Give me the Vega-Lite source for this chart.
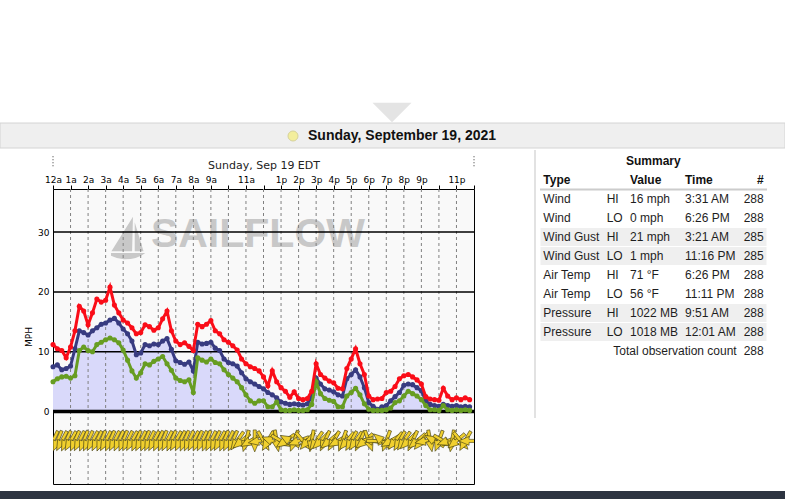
{
"$schema":"https://vega.github.io/schema/vega-lite/v6.json",
"width":421,"height":295,
"autosize":{"type":"none"},
"padding":{"left":53,"top":189,"right":311,"bottom":15},
"background":"#ffffff",
"config":{"view":{"fill":"#f9f9f9","stroke":"#000000","strokeWidth":1},"font":"DejaVu Sans"},
"datasets":{
"wind":[
{"t":"2021-09-19T00:00","g":11.2,"a":7.5,"l":5.0,"d":206},
{"t":"2021-09-19T00:15","g":10.5,"a":7.8,"l":5.5,"d":203},
{"t":"2021-09-19T00:30","g":10.2,"a":7.0,"l":5.8,"d":208},
{"t":"2021-09-19T00:45","g":9.0,"a":7.2,"l":5.9,"d":205},
{"t":"2021-09-19T01:00","g":10.8,"a":7.6,"l":5.6,"d":210},
{"t":"2021-09-19T01:15","g":13.5,"a":10.5,"l":6.0,"d":204},
{"t":"2021-09-19T01:30","g":17.6,"a":13.5,"l":10.2,"d":207},
{"t":"2021-09-19T01:45","g":16.8,"a":13.2,"l":10.8,"d":202},
{"t":"2021-09-19T02:00","g":14.5,"a":12.8,"l":10.2,"d":205},
{"t":"2021-09-19T02:15","g":16.5,"a":13.5,"l":10.0,"d":209},
{"t":"2021-09-19T02:30","g":18.8,"a":14.0,"l":11.2,"d":206},
{"t":"2021-09-19T02:45","g":18.3,"a":14.6,"l":11.6,"d":203},
{"t":"2021-09-19T03:00","g":18.6,"a":14.8,"l":12.0,"d":208},
{"t":"2021-09-19T03:15","g":20.8,"a":15.3,"l":12.3,"d":204},
{"t":"2021-09-19T03:30","g":17.8,"a":15.6,"l":12.0,"d":207},
{"t":"2021-09-19T03:45","g":16.5,"a":14.8,"l":11.5,"d":205},
{"t":"2021-09-19T04:00","g":15.3,"a":13.8,"l":10.3,"d":202},
{"t":"2021-09-19T04:15","g":14.8,"a":13.0,"l":8.6,"d":206},
{"t":"2021-09-19T04:30","g":14.0,"a":11.8,"l":6.8,"d":209},
{"t":"2021-09-19T04:45","g":13.0,"a":9.5,"l":5.6,"d":204},
{"t":"2021-09-19T05:00","g":13.2,"a":9.8,"l":6.5,"d":207},
{"t":"2021-09-19T05:15","g":14.5,"a":11.2,"l":8.0,"d":203},
{"t":"2021-09-19T05:30","g":14.2,"a":11.0,"l":7.8,"d":206},
{"t":"2021-09-19T05:45","g":13.6,"a":11.3,"l":8.4,"d":208},
{"t":"2021-09-19T06:00","g":14.0,"a":11.2,"l":8.8,"d":205},
{"t":"2021-09-19T06:15","g":15.5,"a":11.8,"l":9.2,"d":202},
{"t":"2021-09-19T06:30","g":16.8,"a":12.2,"l":8.0,"d":207},
{"t":"2021-09-19T06:45","g":13.5,"a":10.4,"l":6.9,"d":204},
{"t":"2021-09-19T07:00","g":11.8,"a":8.5,"l":5.6,"d":209},
{"t":"2021-09-19T07:15","g":11.2,"a":8.2,"l":5.2,"d":206},
{"t":"2021-09-19T07:30","g":11.5,"a":7.9,"l":5.0,"d":203},
{"t":"2021-09-19T07:45","g":10.9,"a":8.3,"l":5.3,"d":205},
{"t":"2021-09-19T08:00","g":10.2,"a":6.8,"l":3.2,"d":208},
{"t":"2021-09-19T08:15","g":14.6,"a":11.6,"l":9.0,"d":204},
{"t":"2021-09-19T08:30","g":14.2,"a":11.3,"l":8.6,"d":206},
{"t":"2021-09-19T08:45","g":14.6,"a":11.4,"l":8.3,"d":202},
{"t":"2021-09-19T09:00","g":15.2,"a":11.6,"l":8.8,"d":207},
{"t":"2021-09-19T09:15","g":13.5,"a":10.6,"l":8.2,"d":205},
{"t":"2021-09-19T09:30","g":13.0,"a":10.2,"l":8.0,"d":209},
{"t":"2021-09-19T09:45","g":12.0,"a":8.8,"l":7.0,"d":203},
{"t":"2021-09-19T10:00","g":11.6,"a":8.2,"l":6.2,"d":206},
{"t":"2021-09-19T10:15","g":11.0,"a":8.0,"l":5.6,"d":204},
{"t":"2021-09-19T10:30","g":10.3,"a":7.6,"l":5.0,"d":215},
{"t":"2021-09-19T10:45","g":8.8,"a":6.5,"l":4.0,"d":230},
{"t":"2021-09-19T11:00","g":8.0,"a":5.5,"l":2.8,"d":195},
{"t":"2021-09-19T11:15","g":7.5,"a":5.0,"l":1.8,"d":240},
{"t":"2021-09-19T11:30","g":7.2,"a":4.6,"l":1.4,"d":180},
{"t":"2021-09-19T11:45","g":6.8,"a":4.2,"l":1.8,"d":260},
{"t":"2021-09-19T12:00","g":5.8,"a":3.8,"l":1.8,"d":150},
{"t":"2021-09-19T12:15","g":4.3,"a":3.2,"l":0.8,"d":210},
{"t":"2021-09-19T12:30","g":6.8,"a":2.8,"l":0.8,"d":290},
{"t":"2021-09-19T12:45","g":5.0,"a":2.3,"l":1.6,"d":170},
{"t":"2021-09-19T13:00","g":4.0,"a":1.6,"l":0.3,"d":120},
{"t":"2021-09-19T13:15","g":3.4,"a":1.4,"l":0.2,"d":235},
{"t":"2021-09-19T13:30","g":2.4,"a":1.2,"l":0.2,"d":300},
{"t":"2021-09-19T13:45","g":3.3,"a":1.3,"l":0.3,"d":200},
{"t":"2021-09-19T14:00","g":2.2,"a":1.2,"l":0.2,"d":250},
{"t":"2021-09-19T14:15","g":2.0,"a":1.1,"l":0.2,"d":140},
{"t":"2021-09-19T14:30","g":2.2,"a":1.3,"l":0.3,"d":220},
{"t":"2021-09-19T14:45","g":3.4,"a":2.4,"l":1.2,"d":190},
{"t":"2021-09-19T15:00","g":8.0,"a":5.6,"l":5.0,"d":215},
{"t":"2021-09-19T15:15","g":6.2,"a":4.6,"l":3.0,"d":225},
{"t":"2021-09-19T15:30","g":5.6,"a":3.8,"l":2.2,"d":205},
{"t":"2021-09-19T15:45","g":5.1,"a":3.6,"l":1.9,"d":230},
{"t":"2021-09-19T16:00","g":4.8,"a":3.3,"l":1.7,"d":210},
{"t":"2021-09-19T16:15","g":3.9,"a":2.8,"l":0.8,"d":240},
{"t":"2021-09-19T16:30","g":3.8,"a":2.6,"l":0.8,"d":200},
{"t":"2021-09-19T16:45","g":7.2,"a":5.5,"l":2.6,"d":220},
{"t":"2021-09-19T17:00","g":8.8,"a":6.2,"l":3.2,"d":210},
{"t":"2021-09-19T17:15","g":10.5,"a":7.0,"l":3.9,"d":215},
{"t":"2021-09-19T17:30","g":8.0,"a":5.8,"l":2.8,"d":205},
{"t":"2021-09-19T17:45","g":6.2,"a":4.0,"l":1.3,"d":230},
{"t":"2021-09-19T18:00","g":2.6,"a":1.5,"l":0.4,"d":160},
{"t":"2021-09-19T18:15","g":2.0,"a":0.9,"l":0.2,"d":280},
{"t":"2021-09-19T18:30","g":2.1,"a":0.4,"l":0.2,"d":90},
{"t":"2021-09-19T18:45","g":2.2,"a":0.8,"l":0.2,"d":310},
{"t":"2021-09-19T19:00","g":3.2,"a":1.0,"l":0.3,"d":200},
{"t":"2021-09-19T19:15","g":3.4,"a":1.8,"l":0.6,"d":240},
{"t":"2021-09-19T19:30","g":4.2,"a":2.5,"l":1.5,"d":220},
{"t":"2021-09-19T19:45","g":5.5,"a":3.2,"l":1.8,"d":210},
{"t":"2021-09-19T20:00","g":6.0,"a":4.4,"l":2.6,"d":215},
{"t":"2021-09-19T20:15","g":6.2,"a":4.6,"l":3.4,"d":225},
{"t":"2021-09-19T20:30","g":5.8,"a":4.5,"l":3.0,"d":205},
{"t":"2021-09-19T20:45","g":5.3,"a":4.0,"l":2.6,"d":230},
{"t":"2021-09-19T21:00","g":4.6,"a":3.5,"l":2.0,"d":220},
{"t":"2021-09-19T21:15","g":2.5,"a":1.8,"l":1.0,"d":260},
{"t":"2021-09-19T21:30","g":2.1,"a":1.2,"l":0.3,"d":170},
{"t":"2021-09-19T21:45","g":2.0,"a":1.0,"l":0.3,"d":300},
{"t":"2021-09-19T22:00","g":1.9,"a":0.9,"l":0.2,"d":200},
{"t":"2021-09-19T22:15","g":3.9,"a":1.2,"l":1.0,"d":120},
{"t":"2021-09-19T22:30","g":2.6,"a":1.0,"l":0.3,"d":250},
{"t":"2021-09-19T22:45","g":2.0,"a":0.9,"l":0.2,"d":190},
{"t":"2021-09-19T23:00","g":2.3,"a":1.0,"l":0.3,"d":230},
{"t":"2021-09-19T23:15","g":2.0,"a":0.8,"l":0.2,"d":140},
{"t":"2021-09-19T23:30","g":2.3,"a":0.9,"l":0.3,"d":210},
{"t":"2021-09-19T23:45","g":2.0,"a":0.8,"l":0.2,"d":270}
],
"hours":[
{"t":"2021-09-19T01:00"},{"t":"2021-09-19T02:00"},{"t":"2021-09-19T03:00"},{"t":"2021-09-19T04:00"},{"t":"2021-09-19T05:00"},{"t":"2021-09-19T06:00"},{"t":"2021-09-19T07:00"},{"t":"2021-09-19T08:00"},{"t":"2021-09-19T09:00"},{"t":"2021-09-19T10:00"},{"t":"2021-09-19T11:00"},{"t":"2021-09-19T12:00"},{"t":"2021-09-19T13:00"},{"t":"2021-09-19T14:00"},{"t":"2021-09-19T15:00"},{"t":"2021-09-19T16:00"},{"t":"2021-09-19T17:00"},{"t":"2021-09-19T18:00"},{"t":"2021-09-19T19:00"},{"t":"2021-09-19T20:00"},{"t":"2021-09-19T21:00"},{"t":"2021-09-19T22:00"},{"t":"2021-09-19T23:00"}
],
"table":[
{"r":0,"s":4,"txt":"Summary","k":"c"},
{"r":1,"s":1,"txt":"Type","k":"b"},{"r":1,"s":3,"txt":"Value","k":"b"},{"r":1,"s":5,"txt":"Time","k":"b"},{"r":1,"s":7,"txt":"#","k":"rb"},
{"r":2,"s":1,"txt":"Wind","k":"n"},{"r":2,"s":2,"txt":"HI","k":"n"},{"r":2,"s":3,"txt":"16 mph","k":"n"},{"r":2,"s":5,"txt":"3:31 AM","k":"n"},{"r":2,"s":7,"txt":"288","k":"r"},
{"r":3,"s":1,"txt":"Wind","k":"n"},{"r":3,"s":2,"txt":"LO","k":"n"},{"r":3,"s":3,"txt":"0 mph","k":"n"},{"r":3,"s":5,"txt":"6:26 PM","k":"n"},{"r":3,"s":7,"txt":"288","k":"r"},
{"r":4,"s":1,"txt":"Wind Gust","k":"n"},{"r":4,"s":2,"txt":"HI","k":"n"},{"r":4,"s":3,"txt":"21 mph","k":"n"},{"r":4,"s":5,"txt":"3:21 AM","k":"n"},{"r":4,"s":7,"txt":"285","k":"r"},
{"r":5,"s":1,"txt":"Wind Gust","k":"n"},{"r":5,"s":2,"txt":"LO","k":"n"},{"r":5,"s":3,"txt":"1 mph","k":"n"},{"r":5,"s":5,"txt":"11:16 PM","k":"n"},{"r":5,"s":7,"txt":"285","k":"r"},
{"r":6,"s":1,"txt":"Air Temp","k":"n"},{"r":6,"s":2,"txt":"HI","k":"n"},{"r":6,"s":3,"txt":"71 °F","k":"n"},{"r":6,"s":5,"txt":"6:26 PM","k":"n"},{"r":6,"s":7,"txt":"288","k":"r"},
{"r":7,"s":1,"txt":"Air Temp","k":"n"},{"r":7,"s":2,"txt":"LO","k":"n"},{"r":7,"s":3,"txt":"56 °F","k":"n"},{"r":7,"s":5,"txt":"11:11 PM","k":"n"},{"r":7,"s":7,"txt":"288","k":"r"},
{"r":8,"s":1,"txt":"Pressure","k":"n"},{"r":8,"s":2,"txt":"HI","k":"n"},{"r":8,"s":3,"txt":"1022 MB","k":"n"},{"r":8,"s":5,"txt":"9:51 AM","k":"n"},{"r":8,"s":7,"txt":"288","k":"r"},
{"r":9,"s":1,"txt":"Pressure","k":"n"},{"r":9,"s":2,"txt":"LO","k":"n"},{"r":9,"s":3,"txt":"1018 MB","k":"n"},{"r":9,"s":5,"txt":"12:01 AM","k":"n"},{"r":9,"s":7,"txt":"288","k":"r"},
{"r":10,"s":6,"txt":"Total observation count","k":"r"},{"r":10,"s":7,"txt":"288","k":"r"}
]
},
"layer":[
{
"data":{"name":"wind"},
"mark":{"type":"point","opacity":0},
"encoding":{
"x":{"field":"t","type":"temporal","scale":{"domain":[{"year":2021,"month":9,"date":19,"hours":0},{"year":2021,"month":9,"date":20,"hours":0}],"nice":false},
"axis":{"orient":"top","tickCount":24,"grid":false,"domain":false,"ticks":true,"tickSize":4,"tickColor":"#000000","labelFont":"DejaVu Sans","labelFontSize":9,"labelColor":"#000000","labelPadding":1,"labelFlush":false,"labelOverlap":false,"labelBound":false,
"labelExpr":"(date(datum.value) != 19 || hours(datum.value) == 10 || hours(datum.value) == 12 || hours(datum.value) == 22) ? '' : (hours(datum.value) == 0 ? '12a' : (hours(datum.value) < 12 ? hours(datum.value) + 'a' : (hours(datum.value) - 12) + 'p'))",
"title":"Sunday, Sep 19 EDT","titleFont":"DejaVu Sans","titleFontSize":11,"titleFontWeight":"normal","titleColor":"#222222","titlePadding":5}},
"y":{"field":"a","type":"quantitative","scale":{"domain":[-12.1,37.2],"nice":false,"zero":false},
"axis":{"values":[0,10,20,30],"ticks":false,"domain":false,"grid":false,"labelFont":"DejaVu Sans","labelFontSize":9,"labelColor":"#000000","labelPadding":4,"title":"MPH","titleFont":"DejaVu Sans","titleFontSize":9,"titleFontWeight":"normal","titleColor":"#000000","titlePadding":4}}}
},
{
"data":{"name":"wind"},
"layer":[
{"mark":{"type":"area","color":"#d9d9fa","opacity":1},
"encoding":{
"x":{"field":"t","type":"temporal","scale":{"domain":[{"year":2021,"month":9,"date":19,"hours":0},{"year":2021,"month":9,"date":20,"hours":0}],"nice":false},"axis":null},
"y":{"field":"a","type":"quantitative","scale":{"domain":[-12.1,37.2],"nice":false,"zero":false},"axis":null},
"y2":{"datum":0}}},
{"data":{"values":[{}]},"mark":{"type":"text","text":"SAILFLOW","font":"Liberation Sans","fontWeight":"bold","fontSize":41,"color":"#c8c8c8","align":"center","baseline":"middle"},
"encoding":{"x":{"datum":{"year":2021,"month":9,"date":19,"hours":11,"minutes":41},"type":"temporal","axis":null},"y":{"datum":29.5,"type":"quantitative","axis":null}}},
{"data":{"values":[{}]},"mark":{"type":"point","shape":"M0.22,-0.97L-0.76,0.6L0.18,0.6Z M0.3,-0.72L0.3,0.6L0.7,0.6Z M-0.78,0.68L0.78,0.68Q0.4,0.98 -0.2,0.96Q-0.55,0.92 -0.78,0.8Z","filled":true,"color":"#c8c8c8","opacity":1,"size":1936},
"encoding":{"x":{"datum":{"year":2021,"month":9,"date":19,"hours":4,"minutes":17},"type":"temporal","axis":null},"y":{"datum":29.0,"type":"quantitative","axis":null}}},
{"data":{"name":"hours"},"mark":{"type":"rule","color":"#808080","strokeWidth":1,"strokeDash":[3,3]},"encoding":{"x":{"field":"t","type":"temporal","axis":null}}},
{"data":{"values":[{"v":10},{"v":20},{"v":30}]},"mark":{"type":"rule","color":"#000000","strokeWidth":1.5},"encoding":{"y":{"field":"v","type":"quantitative","axis":null}}},
{"data":{"values":[{}]},"mark":{"type":"rule","color":"#000000","strokeWidth":3.5},"encoding":{"y":{"datum":0,"type":"quantitative","axis":null}}},
{"mark":{"type":"line","color":"#383b80","strokeWidth":3,"point":{"filled":true,"size":26,"color":"#383b80","opacity":1}},"encoding":{"x":{"field":"t","type":"temporal","axis":null},"y":{"field":"a","type":"quantitative","axis":null}}},
{"mark":{"type":"line","color":"#679d22","strokeWidth":3,"point":{"filled":true,"size":26,"color":"#679d22","opacity":1}},"encoding":{"x":{"field":"t","type":"temporal","axis":null},"y":{"field":"l","type":"quantitative","axis":null}}},
{"mark":{"type":"line","color":"#fa0d18","strokeWidth":3,"point":{"filled":true,"size":26,"color":"#fa0d18","opacity":1}},"encoding":{"x":{"field":"t","type":"temporal","axis":null},"y":{"field":"g","type":"quantitative","axis":null}}},
{"mark":{"type":"point","clip":true,"shape":"M0,-1L0.4,-0.05L0.14,-0.05L0.14,1L-0.14,1L-0.14,-0.05L-0.4,-0.05Z","fill":"#f1d02e","stroke":"#403c10","strokeWidth":0.6,"opacity":1,"fillOpacity":1,"size":484},
"encoding":{"x":{"field":"t","type":"temporal","axis":null},"y":{"datum":-4.9,"type":"quantitative","axis":null},"angle":{"field":"d","type":"quantitative","scale":null}}},
{"data":{"values":[{"t":"2021-09-19T00:00"},{"t":"2021-09-20T00:00"}]},"mark":{"type":"rule","color":"#333333","strokeWidth":1,"strokeDash":[1,2]},
"encoding":{"x":{"field":"t","type":"temporal","axis":null},"y":{"datum":41,"type":"quantitative","axis":null},"y2":{"datum":43}}}
]
},
{
"data":{"name":"table"},
"layer":[
{"data":{"values":[{"r":4},{"r":5},{"r":8},{"r":9}]},"mark":{"type":"rect","fill":"#efefef","stroke":"#ffffff","strokeWidth":1},
"encoding":{"x":{"datum":0,"type":"quantitative","scale":{"domain":[0,1,2,3,4,5,6,7,8],"range":[487,490.3,553.7,577,600.3,632,683.7,710.7,714],"zero":false,"nice":false},"axis":null},"x2":{"datum":8},
"y":{"field":"r","type":"ordinal","scale":{"type":"band","domain":[0,1,2,3,4,5,6,7,8,9,10],"range":[-37.5,171.5],"paddingInner":0,"paddingOuter":0},"axis":null}}},
{"data":{"values":[{"r":2}]},"mark":{"type":"rule","color":"#cccccc","strokeWidth":2},
"encoding":{"x":{"datum":0,"type":"quantitative","axis":null},"x2":{"datum":8},"y":{"field":"r","type":"ordinal","bandPosition":0,"axis":null}}},
{"transform":[{"filter":"datum.k == 'n'"}],"mark":{"type":"text","font":"Liberation Sans","fontSize":12,"color":"#1e1e1e","align":"left","baseline":"middle"},
"encoding":{"x":{"field":"s","type":"quantitative","axis":null},"y":{"field":"r","type":"ordinal","axis":null},"text":{"field":"txt"}}},
{"transform":[{"filter":"datum.k == 'b'"}],"mark":{"type":"text","font":"Liberation Sans","fontSize":12,"fontWeight":"bold","color":"#111111","align":"left","baseline":"middle"},
"encoding":{"x":{"field":"s","type":"quantitative","axis":null},"y":{"field":"r","type":"ordinal","axis":null},"text":{"field":"txt"}}},
{"transform":[{"filter":"datum.k == 'c'"}],"mark":{"type":"text","font":"Liberation Sans","fontSize":12,"fontWeight":"bold","color":"#111111","align":"center","baseline":"middle"},
"encoding":{"x":{"field":"s","type":"quantitative","axis":null},"y":{"field":"r","type":"ordinal","axis":null},"text":{"field":"txt"}}},
{"transform":[{"filter":"datum.k == 'r'"}],"mark":{"type":"text","font":"Liberation Sans","fontSize":12,"color":"#1e1e1e","align":"right","baseline":"middle"},
"encoding":{"x":{"field":"s","type":"quantitative","axis":null},"y":{"field":"r","type":"ordinal","axis":null},"text":{"field":"txt"}}},
{"transform":[{"filter":"datum.k == 'rb'"}],"mark":{"type":"text","font":"Liberation Sans","fontSize":12,"fontWeight":"bold","color":"#111111","align":"right","baseline":"middle"},
"encoding":{"x":{"field":"s","type":"quantitative","axis":null},"y":{"field":"r","type":"ordinal","axis":null},"text":{"field":"txt"}}}
]
},
{
"data":{"values":[{}]},
"layer":[
{"mark":{"type":"rect","fill":"#efefef","stroke":"#d4d4d4","strokeWidth":1},
"encoding":{"x":{"datum":0,"type":"quantitative","scale":{"domain":[0,1,2,3,4,5],"range":[-53,240,255,339,482,732],"zero":false,"nice":false},"axis":null},"x2":{"datum":5},
"y":{"datum":1,"type":"quantitative","scale":{"domain":[0,1,2,3,4,5,6,7],"range":[-76.5,-66,-53,-41,-39,229,302,310],"zero":false,"nice":false},"axis":null},"y2":{"datum":3}}},
{"mark":{"type":"rect","fill":"#2d3441"},
"encoding":{"x":{"datum":0,"type":"quantitative","axis":null},"x2":{"datum":5},"y":{"datum":6,"type":"quantitative","axis":null},"y2":{"datum":7}}},
{"mark":{"type":"rule","color":"#e2e2e2","strokeWidth":2},
"encoding":{"x":{"datum":4,"type":"quantitative","axis":null},"y":{"datum":4,"type":"quantitative","axis":null},"y2":{"datum":5}}},
{"mark":{"type":"point","shape":"M-1,-0.5L1,-0.5L0,0.5Z","filled":true,"color":"#e4e4e4","opacity":1,"size":1521},
"encoding":{"x":{"datum":3,"type":"quantitative","axis":null},"y":{"datum":0,"type":"quantitative","axis":null}}},
{"mark":{"type":"point","shape":"circle","fill":"#f3ee9c","stroke":"#d6d29a","strokeWidth":1,"opacity":1,"size":100},
"encoding":{"x":{"datum":1,"type":"quantitative","axis":null},"y":{"datum":2,"type":"quantitative","axis":null}}},
{"mark":{"type":"text","text":"Sunday, September 19, 2021","font":"Liberation Sans","fontSize":14,"fontWeight":"bold","color":"#111111","align":"left","baseline":"middle"},
"encoding":{"x":{"datum":2,"type":"quantitative","axis":null},"y":{"datum":2,"type":"quantitative","axis":null}}}
]
}
],
"resolve":{"scale":{"x":"independent","y":"independent"}}
}
